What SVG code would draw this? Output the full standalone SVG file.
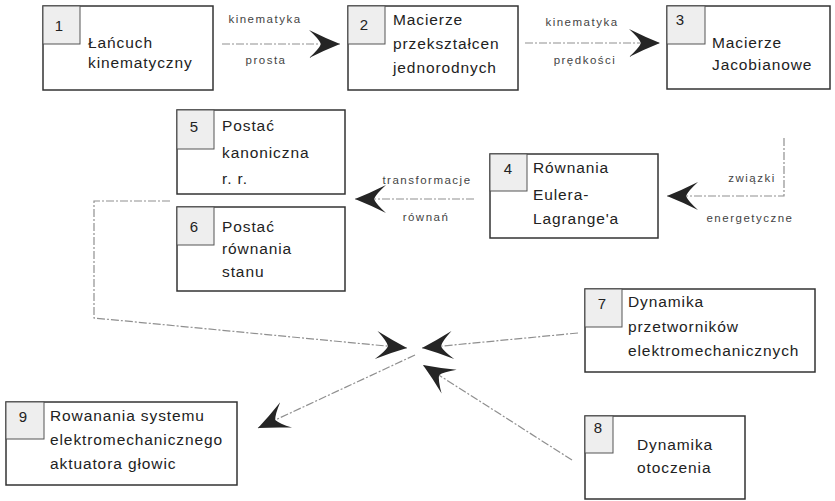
<svg xmlns="http://www.w3.org/2000/svg" width="835" height="501" viewBox="0 0 835 501">
<style>
.box{fill:#fff;stroke:#333;stroke-width:1.5}
.tab{fill:#eeeeee;stroke:#555;stroke-width:1}
.num{font-family:"Liberation Sans",Arial,sans-serif;font-size:15px;fill:#222;text-anchor:middle}
.t{font-family:"Liberation Sans",Arial,sans-serif;font-size:15.5px;fill:#222;letter-spacing:0.9px}
.lbl{font-family:"Liberation Sans",Arial,sans-serif;font-size:11.5px;fill:#444;letter-spacing:1.5px;text-anchor:middle}
.ln{fill:none;stroke:#8f8f8f;stroke-width:1.2;stroke-dasharray:8 2 2 2}
</style>
<defs>
<marker id="ah" markerUnits="userSpaceOnUse" viewBox="-32 -15 34 30" refX="0" refY="0" markerWidth="34" markerHeight="30" orient="auto">
<path d="M0,0 Q-15,-6 -31,-14 Q-21,-5 -19,0 Q-21,5 -31,14 Q-15,6 0,0 Z" fill="#252525"/>
</marker>
</defs>
<g id="connectors">
<line class="ln" x1="222" y1="44" x2="340" y2="44" marker-end="url(#ah)"/>
<line class="ln" x1="525" y1="43" x2="660" y2="43" marker-end="url(#ah)"/>
<polyline class="ln" points="784,138 784,196 667,196" marker-end="url(#ah)"/>
<line class="ln" x1="474" y1="199" x2="355" y2="199" marker-end="url(#ah)"/>
<polyline class="ln" points="170,201 94,201 94,318 407,348" marker-end="url(#ah)"/>
<line class="ln" x1="578" y1="333" x2="422" y2="348" marker-end="url(#ah)"/>
<line class="ln" x1="572" y1="460" x2="423" y2="365" marker-end="url(#ah)"/>
<line class="ln" x1="415" y1="355" x2="258" y2="428" marker-end="url(#ah)"/>
<text class="lbl" x="265" y="23">kinematyka</text>
<text class="lbl" x="266" y="64">prosta</text>
<text class="lbl" x="582" y="26">kinematyka</text>
<text class="lbl" x="585" y="64">prędkości</text>
<text class="lbl" x="752" y="182">związki</text>
<text class="lbl" x="750" y="222">energetyczne</text>
<text class="lbl" x="427" y="184">transformacje</text>
<text class="lbl" x="426" y="221">równań</text>
</g>
<g id="node1">
<rect class="box" x="43" y="6" width="170" height="84"/>
<rect class="tab" x="43" y="6" width="37" height="38"/>
<text class="num" x="59" y="31">1</text>
<text class="t" x="88" y="48">Łańcuch</text>
<text class="t" x="88" y="68">kinematyczny</text>
</g>
<g id="node2">
<rect class="box" x="348" y="6" width="170" height="84"/>
<rect class="tab" x="348" y="6" width="37" height="38"/>
<text class="num" x="364" y="30">2</text>
<text class="t" x="393" y="25">Macierze</text>
<text class="t" x="393" y="49">przekształcen</text>
<text class="t" x="393" y="73">jednorodnych</text>
</g>
<g id="node3">
<rect class="box" x="667" y="6" width="163" height="83"/>
<rect class="tab" x="667" y="6" width="38" height="38"/>
<text class="num" x="680" y="25">3</text>
<text class="t" x="712" y="48">Macierze</text>
<text class="t" x="712" y="70">Jacobianowe</text>
</g>
<g id="node4">
<rect class="box" x="490" y="154" width="168" height="84"/>
<rect class="tab" x="490" y="154" width="37" height="37"/>
<text class="num" x="508" y="174">4</text>
<text class="t" x="533" y="173">Równania</text>
<text class="t" x="533" y="200">Eulera-</text>
<text class="t" x="533" y="224">Lagrange'a</text>
</g>
<g id="node5">
<rect class="box" x="177" y="110" width="168" height="84"/>
<rect class="tab" x="177" y="110" width="37" height="39"/>
<text class="num" x="194" y="132">5</text>
<text class="t" x="222" y="131">Postać</text>
<text class="t" x="222" y="158">kanoniczna</text>
<text class="t" x="222" y="184">r. r.</text>
</g>
<g id="node6">
<rect class="box" x="177" y="207" width="168" height="84"/>
<rect class="tab" x="177" y="207" width="37" height="38"/>
<text class="num" x="194" y="232">6</text>
<text class="t" x="222" y="232">Postać</text>
<text class="t" x="222" y="254">równania</text>
<text class="t" x="222" y="277">stanu</text>
</g>
<g id="node7">
<rect class="box" x="585" y="289" width="230" height="83"/>
<rect class="tab" x="585" y="289" width="37" height="38"/>
<text class="num" x="602" y="309">7</text>
<text class="t" x="628" y="307">Dynamika</text>
<text class="t" x="628" y="332">przetworników</text>
<text class="t" x="628" y="356">elektromechanicznych</text>
</g>
<g id="node8">
<rect class="box" x="585" y="416" width="160" height="83"/>
<rect class="tab" x="585" y="416" width="28" height="37"/>
<text class="num" x="598" y="433">8</text>
<text class="t" x="637" y="450">Dynamika</text>
<text class="t" x="637" y="473">otoczenia</text>
</g>
<g id="node9">
<rect class="box" x="6" y="402" width="231" height="83"/>
<rect class="tab" x="6" y="402" width="38" height="37"/>
<text class="num" x="23" y="422">9</text>
<text class="t" x="50" y="421">Rowanania systemu</text>
<text class="t" x="50" y="445">elektromechanicznego</text>
<text class="t" x="50" y="469">aktuatora głowic</text>
</g>
</svg>
